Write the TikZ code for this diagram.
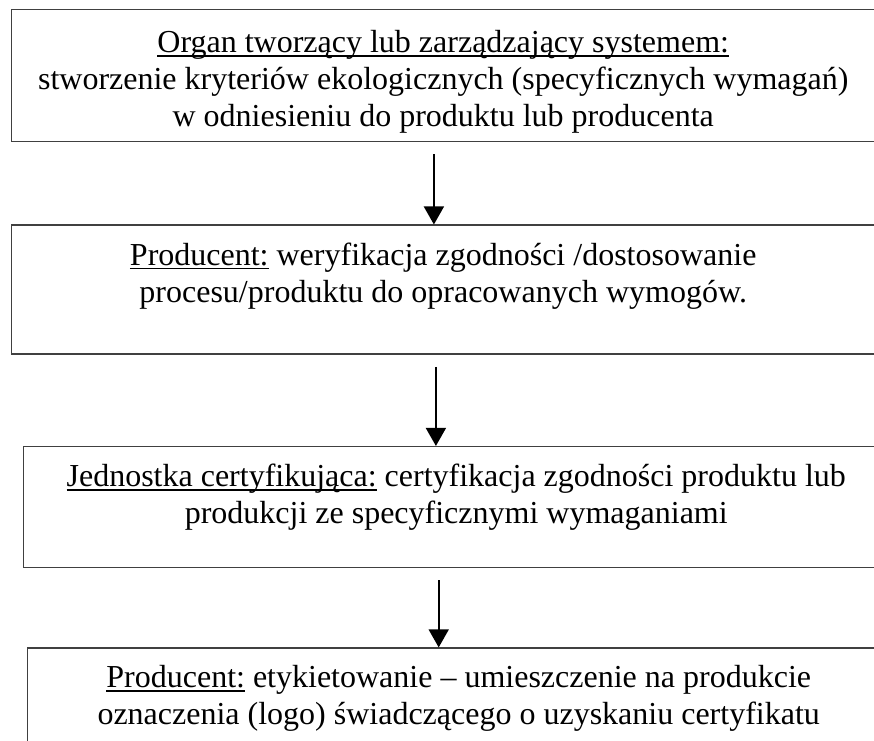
\documentclass[tikz,border=0pt]{standalone}
\usepackage{fontspec}
\setmainfont{Liberation Serif}
\usetikzlibrary{positioning, arrows.meta}
\newsavebox{\ulbox}
\newcommand{\undl}[1]{\sbox{\ulbox}{#1}\rlap{\rule[-3pt]{\wd\ulbox}{1.1pt}}\usebox{\ulbox}}
\tikzstyle{frame} = [rectangle, 
minimum width=659.25pt, 
draw=black!75, 
line width=1.1pt, 
inner sep=0pt]
\tikzstyle{caption} = [align=center, 
inner sep=0pt, 
font=\fontsize{24pt}{27.6pt}\selectfont]
\tikzstyle{arrow} = [line width=1.2pt,-{Triangle[width=15pt,length=13.5pt]}]

\begin{document}
\begin{tikzpicture}
			\useasboundingbox (0,0) rectangle (655.5pt,-555pt);
			\node (organ)[frame, minimum height=99pt, anchor=north west] at (8.25pt,-6.75pt) {};
			\node (organText)[caption, below=16pt of organ.north, xshift=-6pt] {\undl{Organ tworzący lub zarządzający systemem:}\\stworzenie kryteriów ekologicznych (specyficznych wymagań)\\w odniesieniu do produktu lub producenta};
			
			\node (producer)[frame, minimum height=96.75pt, below right=61.5pt and 0pt of organ.south west] {};
			\node (producerText)[caption, below=13.5pt of producer.north, xshift=-6pt] {\undl{Producent:} weryfikacja zgodności /dostosowanie\\procesu/produktu do opracowanych wymogów.};
			\coordinate (fromOrgan) at ([shift={(-13pt,-9pt)}]organ.south);
			\draw [arrow] (fromOrgan) -- (fromOrgan |- producer.north);
			
			\node (unit)[frame, minimum height=90.75pt, below right=68.25pt and 9pt of producer.south west] {};
			\node (unitText)[caption, below=13.5pt of unit.north, xshift=-5.25pt] {\undl{Jednostka certyfikująca:} certyfikacja zgodności produktu lub\\produkcji ze specyficznymi wymaganiami};
			\coordinate (fromProducer) at ([shift={(-11.5pt,-9pt)}]producer.south);
			\draw [arrow] (fromProducer) -- (fromProducer |- unit.north);
			
			\node (label)[frame, minimum height=90pt, below right=59.25pt and 3pt of unit.south west] {};
			\node (labelText)[caption, below=13.5pt of label.north, xshift=-6.4pt] {\undl{Producent:} etykietowanie – umieszczenie na produkcie\\oznaczenia (logo) świadczącego o uzyskaniu certyfikatu};
			\coordinate (fromUnit) at ([shift={(-18.4pt,-9pt)}]unit.south);
			\draw [arrow] (fromUnit) -- (fromUnit |- label.north);
		\end{tikzpicture}
\end{document}
